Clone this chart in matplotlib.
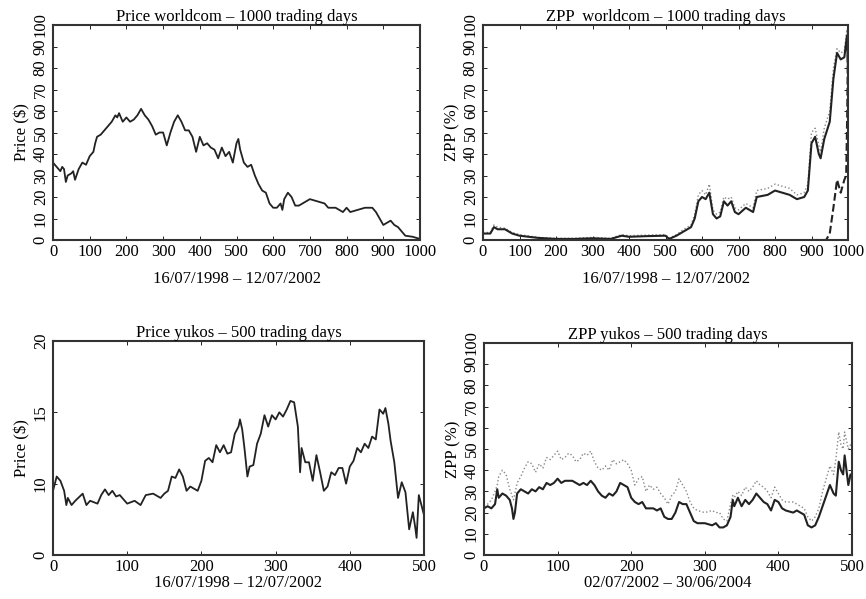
import matplotlib.pyplot as plt

plt.rcParams['font.family'] = ['Liberation Serif', 'DejaVu Serif']
plt.rcParams['font.size'] = 12

# worldcom price, 1000 trading days
wc_days = [0, 10, 20, 25, 30, 35, 40, 50, 55, 60, 70, 80, 90, 100, 110, 115, 120, 130, 140, 150,
           160, 170, 175, 180, 190, 200, 210, 220, 230, 240, 250, 260, 270, 280, 290, 300, 310, 320,
           330, 340, 350, 360, 370, 380, 390, 400, 410, 420, 430, 440, 450, 460, 470, 480, 490, 500,
           505, 510, 520, 530, 540, 550, 560, 570, 580, 590, 600, 610, 620, 625, 630, 640, 650, 660,
           670, 680, 690, 700, 720, 740, 750, 770, 790, 800, 810, 830, 850, 870, 880, 890, 900, 910,
           920, 930, 940, 950, 960, 980, 990, 1000]
wc_price = [36, 34, 32, 34, 33, 27, 30, 31, 32, 28, 33, 36, 35, 39, 41, 45, 48, 49, 51, 53,
            55, 58, 57, 59, 55, 57, 55, 56, 58, 61, 58, 56, 53, 49, 50, 50, 44, 50,
            55, 58, 55, 51, 51, 48, 41, 48, 44, 45, 43, 42, 38, 43, 39, 41, 36, 45,
            47, 42, 36, 34, 35, 30, 26, 23, 22, 17, 15, 15, 17, 14, 19, 22, 20, 16,
            16, 17, 18, 19, 18, 17, 15, 15, 13, 15, 13, 14, 15, 15, 13, 10, 7, 8,
            9, 7, 6, 4, 2, 1.5, 1, 0.5]

# worldcom ZPP
wz_days = [0, 20, 30, 40, 60, 80, 100, 150, 200, 250, 300, 350, 380, 400, 450, 500, 510, 530,
           550, 570, 580, 590, 600, 610, 620, 630, 640, 650, 660, 670, 680, 690, 700, 720, 740,
           750, 780, 800, 820, 840, 860, 880, 890, 900, 910, 920, 925, 935, 950, 960, 970, 980,
           990, 997, 1000]
wz_solid = [3, 3, 6, 5, 5, 3, 2, 1, 0.5, 0.5, 0.8, 0.5, 2, 1.5, 1.8, 2, 0.5, 2,
            4, 6, 10, 18, 20, 19, 22, 12, 10, 11, 18, 16, 18, 13, 12, 15, 13,
            20, 21, 23, 22, 21, 19, 20, 23, 45, 48, 40, 38, 47, 55, 75, 87, 84,
            85, 95, 80]
wz_dotted = [3.5, 3.5, 7, 6, 5.5, 3.5, 2.5, 1.2, 0.8, 0.8, 1.2, 0.8, 2.5, 2, 2.3, 2.5, 0.8, 2.5,
             5, 7, 12, 21, 23, 21, 26, 14, 12, 13, 20, 19, 20, 15, 14, 17, 15,
             23, 24, 26, 25, 24, 21, 22, 26, 50, 52, 44, 41, 52, 60, 80, 89, 87,
             88, 98, 85]
wz_dash_days = [900, 940, 950, 960, 970, 980, 990, 995, 998, 1000]
wz_dash = [0, 0, 3, 15, 28, 22, 28, 30, 60, 95]

# yukos price, 500 trading days
yk_days = [0, 5, 10, 15, 18, 20, 25, 30, 40, 45, 50, 60, 65, 70, 75, 80, 85, 90, 100, 110,
           118, 125, 135, 145, 150, 155, 160, 165, 170, 175, 180, 185, 195, 200, 205, 210, 215,
           220, 225, 230, 235, 240, 245, 250, 252, 255, 258, 262, 265, 270, 275, 280, 285, 290,
           295, 300, 305, 310, 315, 320, 325, 330, 333, 335, 340, 345, 350, 355, 360, 365, 370,
           375, 380, 385, 390, 395, 400, 405, 410, 415, 420, 425, 430, 435, 440, 445, 448, 452,
           455, 460, 465, 470, 475, 480, 485, 488, 490, 493, 496, 500]
yk_price = [9.5, 10.5, 10.2, 9.5, 8.5, 9.0, 8.5, 8.8, 9.3, 8.5, 8.8, 8.6, 9.2, 9.6, 9.2, 9.5, 9.1, 9.2, 8.6, 8.8,
            8.5, 9.2, 9.3, 9.0, 9.3, 9.5, 10.5, 10.4, 11.0, 10.5, 9.5, 9.8, 9.5, 10.2, 11.6, 11.8, 11.5,
            12.7, 12.2, 12.7, 12.1, 12.2, 13.5, 14.0, 14.5, 13.8, 12.5, 10.5, 11.2, 11.3, 12.8, 13.5, 14.8, 14.0,
            14.8, 14.5, 15.0, 14.7, 15.2, 15.8, 15.7, 14.0, 10.8, 12.5, 11.5, 11.5, 10.2, 12.0, 10.8, 9.5, 9.8,
            10.8, 10.6, 11.1, 11.1, 10.0, 11.2, 11.6, 12.5, 12.2, 12.8, 12.5, 13.3, 13.1, 15.2, 14.9, 15.3, 14.2,
            13.0, 11.5, 9.0, 10.1, 9.4, 6.8, 8.0, 7.0, 6.2, 9.2, 8.6, 7.8]

# yukos ZPP
yz_days = [0, 5, 10, 15, 18, 20, 25, 30, 35, 38, 40, 42, 45, 50, 55, 60, 65, 70, 75, 80,
           85, 90, 95, 100, 105, 110, 115, 120, 125, 130, 135, 140, 145, 150, 155, 160, 165, 170,
           175, 180, 185, 190, 195, 200, 205, 210, 215, 220, 225, 230, 235, 240, 245, 250, 255,
           260, 265, 270, 275, 280, 285, 290, 300, 310, 315, 320, 325, 330, 335, 338, 340, 345,
           350, 355, 360, 365, 370, 375, 380, 385, 390, 395, 400, 405, 410, 420, 425, 430, 435,
           440, 445, 450, 455, 460, 465, 470, 475, 478, 482, 485, 488, 490, 495, 498, 500]
yz_solid = [22, 23, 22, 24, 31, 27, 29, 28, 26, 22, 17, 20, 29, 31, 30, 29, 31, 30, 32, 31,
            34, 33, 34, 36, 34, 35, 35, 35, 34, 33, 34, 33, 35, 33, 30, 28, 27, 29,
            28, 30, 34, 33, 32, 27, 25, 24, 25, 22, 22, 22, 21, 22, 18, 17, 17,
            20, 25, 24, 24, 20, 16, 15, 15, 14, 15, 13, 13, 14, 18, 26, 23, 27,
            23, 26, 24, 26, 29, 27, 25, 24, 21, 26, 25, 22, 21, 20, 21, 20, 19,
            14, 13, 14, 18, 23, 28, 33, 29, 28, 44, 40, 38, 47, 33, 38, 37]
yz_dotted = [23, 24, 26, 30, 33, 37, 40, 38, 31, 28, 26, 29, 34, 37, 41, 44, 43, 39, 43, 41,
             46, 45, 47, 49, 45, 46, 48, 47, 44, 45, 48, 47, 49, 44, 41, 40, 42, 40,
             45, 43, 44, 45, 43, 40, 33, 36, 37, 30, 33, 31, 32, 29, 27, 24, 28,
             30, 36, 33, 30, 25, 22, 21, 20, 21, 20, 20, 17, 16, 24, 28, 27, 30,
             28, 32, 30, 32, 35, 33, 32, 30, 27, 32, 29, 26, 25, 25, 24, 23, 22,
             18, 16, 18, 22, 30, 36, 42, 38, 45, 58, 52, 50, 58, 50, 52, 52]

fig = plt.figure(figsize=(8.66, 5.99), dpi=100)
W, H = 866, 599


def make_ax(l, t, r, b):
    return fig.add_axes([l / W, 1 - b / H, (r - l) / W, (b - t) / H])


def style(ax, title, xlabel, ylabel, xmax, yticks, ylabels, ylim, xpad):
    ax.set_title(title, fontsize=12, pad=3)
    ax.set_xlabel(xlabel, fontsize=12, labelpad=xpad)
    ax.set_ylabel(ylabel, fontsize=12, labelpad=2)
    ax.set_xlim(0, xmax)
    ax.set_ylim(*ylim)
    ax.set_xticks(range(0, xmax + 1, 100))
    ax.set_yticks(yticks)
    ax.set_yticklabels(ylabels, rotation=90, va='center')
    ax.tick_params(direction='in', top=True, right=True, length=3, width=0.6, labelsize=12, pad=3)
    for s in ax.spines.values():
        s.set_linewidth(1.5)
        s.set_color('#333333')


pct = list(range(0, 101, 10))

ax1 = make_ax(53, 25, 420, 240)
ax1.plot(wc_days, wc_price, color='#222222', lw=1.3)
style(ax1, 'Price worldcom \u2013 1000 trading days', '16/07/1998 \u2013 12/07/2002', 'Price ($)',
      1000, pct, [str(v) for v in pct], (0, 100), 8)

ax2 = make_ax(483, 25, 848, 240)
ax2.plot(wz_days, wz_dotted, color='#888888', lw=1.0, ls=':')
ax2.plot(wz_days, wz_solid, color='#222222', lw=1.5)
ax2.plot(wz_dash_days, wz_dash, color='#222222', lw=1.5, ls='--')
style(ax2, 'ZPP  worldcom \u2013 1000 trading days', '16/07/1998 \u2013 12/07/2002', 'ZPP (%)',
      1000, pct, [str(v) for v in pct], (0, 100), 8)

ax3 = make_ax(53, 341, 424, 555)
ax3.plot(yk_days, yk_price, color='#222222', lw=1.3)
style(ax3, 'Price yukos \u2013 500 trading days', '16/07/1998 \u2013 12/07/2002', 'Price ($)',
      500, [5, 10, 15, 20], ['0', '10', '15', '20'], (5, 20), 0)

ax4 = make_ax(484, 343, 852, 555)
ax4.plot(yz_days, yz_dotted, color='#888888', lw=1.0, ls=':')
ax4.plot(yz_days, yz_solid, color='#222222', lw=1.5)
style(ax4, 'ZPP yukos \u2013 500 trading days', '02/07/2002 \u2013 30/06/2004', 'ZPP (%)',
      500, pct, [str(v) for v in pct], (0, 100), 0)

fig.savefig('out.png', dpi=100)
